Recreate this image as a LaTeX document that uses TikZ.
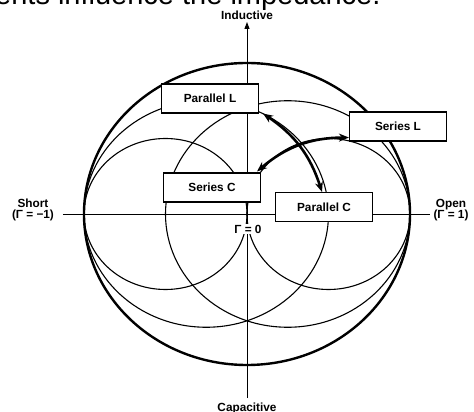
\documentclass[tikz,border=0pt]{standalone}
\usepackage{fontspec}
\setmainfont{Liberation Sans}
\usetikzlibrary{arrows.meta}

\begin{document}
\begin{tikzpicture}[x=1pt, y=1pt, >=Stealth,
    lbl/.style={font=\fontsize{11.8}{11}\selectfont\bfseries, align=center, inner sep=1pt},
    box/.style={draw, line width=1.1pt, fill=white, minimum width=97pt, minimum height=29pt, inner sep=0pt, font=\fontsize{11.8}{14}\selectfont\bfseries},
    chart/.style={line width=1.1pt},
    move/.style={{Stealth[length=10pt, width=8pt]}-{Stealth[length=10pt, width=8pt]}, line width=2.6pt}]
  \useasboundingbox (-247,-198) rectangle (227,214);
  \clip (-247,-198) rectangle (227,214);
  % cut-off caption line above the chart
  \node[anchor=base west, inner sep=0pt, font=\fontsize{29}{34}\selectfont] (title) at (-252,209) {ents influence the impedance.};
  % axes
  \coordinate (west)  at (-184,0);
  \coordinate (east)  at (183,0);
  \coordinate (north) at (0,192);
  \coordinate (south) at (0,-184);
  \draw[line width=0.9pt] (west) -- (east);
  \draw[line width=0.9pt, -{Triangle[length=7pt, width=5pt]}] (south) -- (north);
  % chart circles
  \begin{scope}[x=163pt, y=151pt]
    \draw[line width=2.4pt] (0,0) circle (1);
    \draw[chart] (-0.5,0)  circle (0.5);
    \draw[chart] (0.5,0)   circle (0.5);
    \draw[chart] (-0.25,0) circle (0.75);
    \draw[chart] (0.25,0)  circle (0.75);
  \end{scope}
  % labels
  \node[lbl] (inductive)  at (0,199)  {Inductive};
  \node[lbl] (capacitive) at (0,-194) {Capacitive};
  \node[lbl] (short) at (-214,4)  {Short\\(Γ = −1)};
  \node[lbl] (open)  at (204,3.5) {Open\\(Γ = 1)};
  \node[lbl, fill=white] (gzero) at (1,-15) {Γ = 0};
  % element boxes
  \node[box] (parL) at (-37,115.5) {Parallel L};
  \node[box] (serL) at (151,87.5)  {Series L};
  \node[box] (serC) at (-35,26.5)  {Series C};
  \node[box] (parC) at (77,7)      {Parallel C};
  \draw[move] ([xshift=4pt]parL.south east) to[bend left=19] ([xshift=-2pt]parC.north);
  \draw[move] ([xshift=-4pt, yshift=1pt]serC.north east) to[bend left=20] ([yshift=4pt]serL.south west);
\end{tikzpicture}
\end{document}
